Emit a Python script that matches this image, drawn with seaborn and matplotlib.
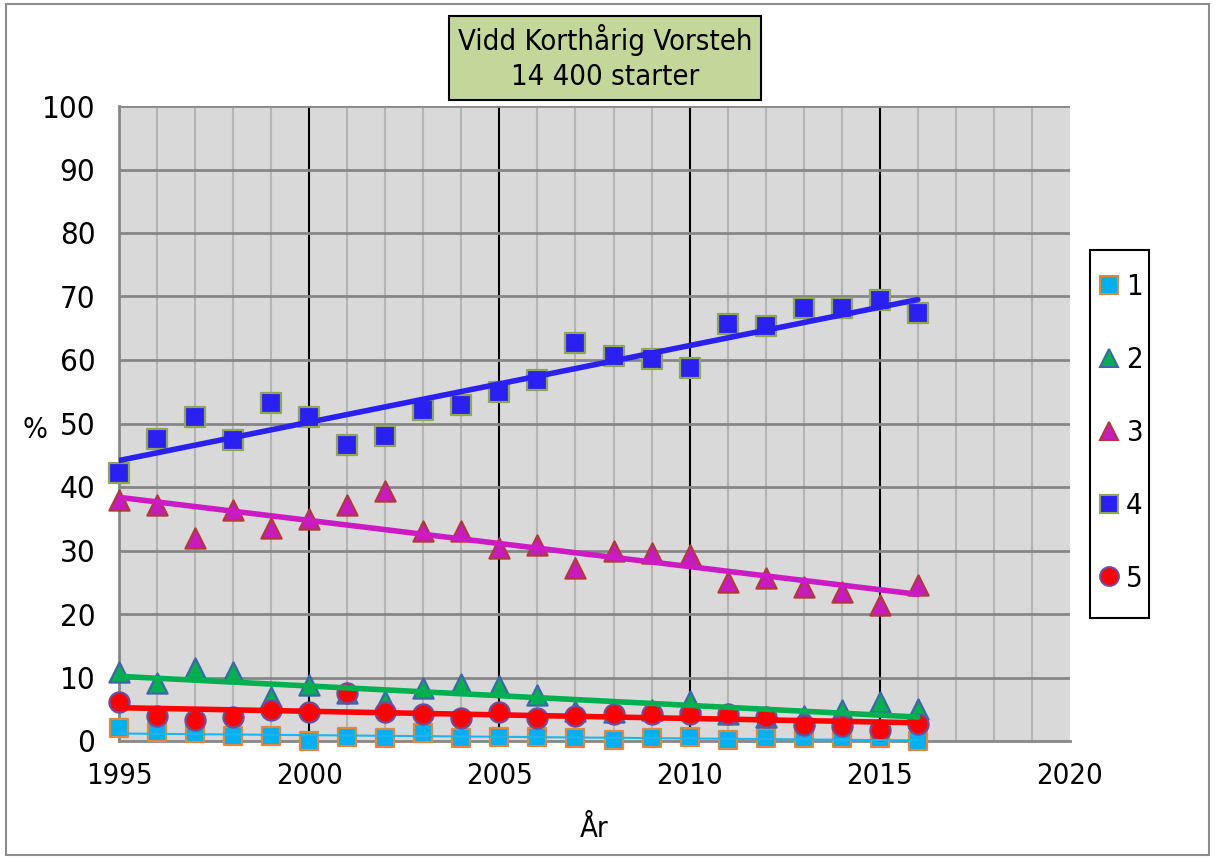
import numpy as np
import pandas as pd
import matplotlib
matplotlib.use("Agg")
import matplotlib.pyplot as plt
from matplotlib.lines import Line2D
from matplotlib.patches import Rectangle
import seaborn as sns

# data (percent per year, classes 1-5)
years = [1995, 1996, 1997, 1998, 1999, 2000, 2001, 2002, 2003, 2004, 2005,
         2006, 2007, 2008, 2009, 2010, 2011, 2012, 2013, 2014, 2015, 2016]
pris_1 = [2.1, 1.4, 1.3, 0.8, 0.8, 0.0, 0.6, 0.5, 1.2, 0.5, 0.7,
          0.7, 0.4, 0.1, 0.4, 0.6, 0.1, 0.4, 0.5, 0.5, 0.4, 0.0]
pris_2 = [10.8, 9.1, 11.5, 10.9, 7.0, 8.8, 7.5, 6.3, 8.4, 9.0, 8.6,
          7.3, 4.7, 4.5, 4.9, 6.3, 4.2, 3.8, 4.0, 4.9, 6.1, 5.0]
pris_3 = [37.9, 37.2, 32.0, 36.3, 33.5, 35.0, 37.1, 39.4, 33.1, 33.0, 30.4,
          30.8, 27.2, 30.0, 29.6, 29.3, 25.0, 25.7, 24.2, 23.5, 21.4, 24.6]
pris_4 = [42.2, 47.5, 51.0, 47.4, 53.3, 51.0, 46.6, 48.1, 52.2, 52.9, 54.9,
          56.9, 62.7, 60.7, 60.1, 58.7, 65.7, 65.4, 68.2, 68.2, 69.5, 67.4]
pris_5 = [6.1, 4.0, 3.3, 3.8, 4.9, 4.5, 7.6, 4.6, 4.3, 3.7, 4.6,
          3.7, 4.0, 4.3, 4.3, 4.3, 4.3, 3.8, 2.5, 2.3, 1.8, 2.6]
labels = ['1', '2', '3', '4', '5']

df = pd.DataFrame({'year': years, '1': pris_1, '2': pris_2, '3': pris_3,
                   '4': pris_4, '5': pris_5})

# style per serie: marker, fill, edge, trend colour, trend width, size
stil = {
    '1': ('s', '#00B0F0', '#E2873E', '#1FB4F0', 1.5, 13),
    '2': ('^', '#00B050', '#3F67A8', '#00B050', 4.0, 14.5),
    '3': ('^', '#C71BC0', '#B0393B', '#CC1BC4', 4.0, 14.5),
    '4': ('s', '#2B20F2', '#8FA654', '#2B20F2', 4.0, 14),
    '5': ('o', '#FF0000', '#6E4E9C', '#FF0000', 4.0, 14.5),
}

sns.set_style('white')
plt.rcParams['font.family'] = ['DejaVu Sans']
plt.rcParams['font.stretch'] = 'condensed'
plt.rcParams['text.color'] = 'black'
plt.rcParams['axes.labelcolor'] = 'black'

fig = plt.figure(figsize=(12.15, 8.59), dpi=100)
ax = fig.add_axes([119 / 1215, 1 - 741 / 859, 951 / 1215, 635 / 859])
ax.set_facecolor('#D9D9D9')

# grilla
for a in range(1996, 2020):
    if a % 5 == 0:
        ax.axvline(a, color='black', lw=1.5, zorder=1)
    else:
        ax.axvline(a, color='#B4B4B4', lw=1.5, zorder=1)
for v in range(10, 101, 10):
    ax.axhline(v, color='#878787', lw=2, zorder=1)

# markers
for lab in labels:
    m, fc, ec, lc, lw, ms = stil[lab]
    sns.scatterplot(data=df, x='year', y=lab, ax=ax, marker=m, s=ms ** 2,
                    color=fc, edgecolor=ec, linewidth=1.6, zorder=3,
                    clip_on=False, legend=False)

# trendlinjer
for lab in labels:
    m, fc, ec, lc, lw, ms = stil[lab]
    sns.regplot(data=df, x='year', y=lab, ax=ax, scatter=False, ci=None,
                truncate=True, line_kws={'color': lc, 'lw': lw, 'zorder': 4})

ax.set_xlim(1995, 2020)
ax.set_ylim(0, 100)
ax.set_xticks([1995, 2000, 2005, 2010, 2015, 2020])
ax.set_yticks(range(0, 101, 10))
ax.tick_params(axis='both', which='major', direction='out',
               length=9, width=1.5, color='#878787', labelcolor='black')
ax.tick_params(axis='x', labelsize=21, pad=6)
ax.tick_params(axis='y', labelsize=22.5, pad=8)
for s in ['top', 'right']:
    ax.spines[s].set_visible(False)
ax.spines['left'].set_color('#878787')
ax.spines['left'].set_linewidth(2)
ax.spines['bottom'].set_color('#878787')
ax.spines['bottom'].set_linewidth(2)

ax.set_xlabel('År', fontsize=21, labelpad=18)
ax.set_ylabel('%', fontsize=21, rotation=0, va='center', ha='center')
ax.yaxis.set_label_coords(-0.088, 0.49)

fig.text(0.498, 0.933, 'Vidd Korthårig Vorsteh\n14 400 starter',
         ha='center', va='center', fontsize=21, linespacing=1.3,
         bbox=dict(boxstyle='square,pad=0.3', facecolor='#C4D79B',
                   edgecolor='black', lw=1.5))

handles = []
for lab in labels:
    m, fc, ec, lc, lw, ms = stil[lab]
    handles.append(Line2D([], [], ls='none', marker=m, markersize=13.5,
                          markerfacecolor=fc, markeredgecolor=ec,
                          markeredgewidth=1.5))
leg = fig.legend(handles, labels, loc='upper left',
                 bbox_to_anchor=(1100 / 1215, 1 - 273 / 859),
                 fontsize=21, frameon=False, labelspacing=1.54,
                 handlelength=0.6, handletextpad=0.28, borderpad=0,
                 borderaxespad=0)
# legend box drawn by hand (narrow, tall frame)
fig.patches.append(Rectangle((1090 / 1215, 1 - 618 / 859), 59 / 1215,
                             368 / 859, fill=True, facecolor='white',
                             edgecolor='black', lw=1.5, zorder=0,
                             transform=fig.transFigure, figure=fig))

fig.patches.append(Rectangle((0.005, 0.005), 0.99, 0.99, fill=False,
                             edgecolor='#8C8C8C', lw=1.5,
                             transform=fig.transFigure, figure=fig))

fig.savefig('out.png', dpi=100)
